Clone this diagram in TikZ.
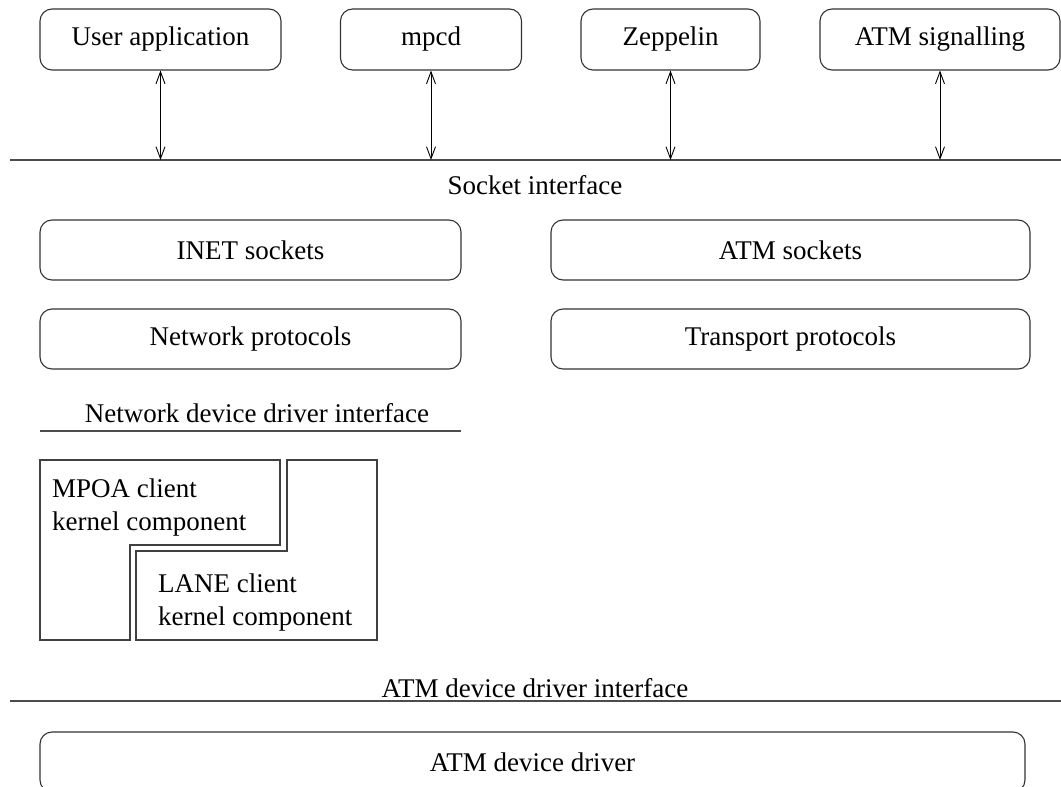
\documentclass[tikz,border=0pt]{standalone}
\usepackage{fontspec}
\setmainfont{Liberation Serif}
\usetikzlibrary{arrows.meta}
\begin{document}
\begin{tikzpicture}[x=1pt,y=-1pt,
  every node/.style={font=\fontsize{27}{33}\selectfont},
  rbox/.style={draw=black!80,line width=1.1pt,rectangle,rounded corners=12pt,inner sep=0pt},
  layerline/.style={draw=black!70,line width=1.3pt},
  plainbox/.style={draw=black!75,line width=1.1pt},
  biarrow/.style={line width=0.9pt,{Straight Barb[length=12pt,width=9pt]}-{Straight Barb[length=12pt,width=9pt]}},
  lbl/.style={inner sep=0pt}
]
\useasboundingbox (0,0) rectangle (1061,787);

% top application boxes
\node[rbox,minimum width=241pt,minimum height=61pt] (ua) at (160.5,39.5) {User application};
\node[rbox,minimum width=181pt,minimum height=61pt] (mp) at (431,39.5) {mpcd};
\node[rbox,minimum width=179pt,minimum height=61pt] (ze) at (670.5,39.5) {Zeppelin};
\node[rbox,minimum width=240pt,minimum height=61pt] (as) at (940,39.5) {ATM signalling};

% socket interface line
\coordinate (sl) at (10,160);
\coordinate (sr) at (1061,160);
\draw[layerline] (sl) -- (sr);
\coordinate (a1) at (160.5,160);
\coordinate (a2) at (431,160);
\coordinate (a3) at (670.5,160);
\coordinate (a4) at (940,160);
\draw[biarrow] (ua.south) -- (a1);
\draw[biarrow] (mp.south) -- (a2);
\draw[biarrow] (ze.south) -- (a3);
\draw[biarrow] (as.south) -- (a4);
\node[lbl] (si) at (535,185) {Socket interface};

% socket and protocol boxes
\node[rbox,minimum width=421pt,minimum height=60pt] (inet) at (250.5,250) {INET sockets};
\node[rbox,minimum width=479pt,minimum height=60pt] (atms) at (790.5,250) {ATM sockets};
\node[rbox,minimum width=421pt,minimum height=60pt] (netp) at (250.5,339) {Network protocols};
\node[rbox,minimum width=479pt,minimum height=60pt] (trp) at (790.5,339) {Transport protocols};

% network device driver interface
\node[lbl] (ndi) at (257,413) {Network device driver interface};
\coordinate (nl) at (40,431);
\coordinate (nr) at (461,431);
\draw[layerline] (nl) -- (nr);

% MPOA and LANE components
\draw[plainbox] (40,460) -- (280,460) -- (280,545) -- (130,545) -- (130,640) -- (40,640) -- cycle;
\draw[plainbox] (287,460) -- (377,460) -- (377,640) -- (136,640) -- (136,551) -- (287,551) -- cycle;
\node[lbl,anchor=base west,align=left] (mpoa) at (52,530) {MPOA client\\kernel component};
\node[lbl,anchor=base west,align=left] (lane) at (158,625) {LANE client\\kernel component};

% ATM device driver interface
\node[lbl] (adi) at (535,688) {ATM device driver interface};
\coordinate (al) at (10,701);
\coordinate (ar) at (1061,701);
\draw[layerline] (al) -- (ar);

% ATM device driver
\node[rbox,minimum width=985pt,minimum height=60pt] (add) at (532.5,762) {ATM device driver};
\end{tikzpicture}
\end{document}
